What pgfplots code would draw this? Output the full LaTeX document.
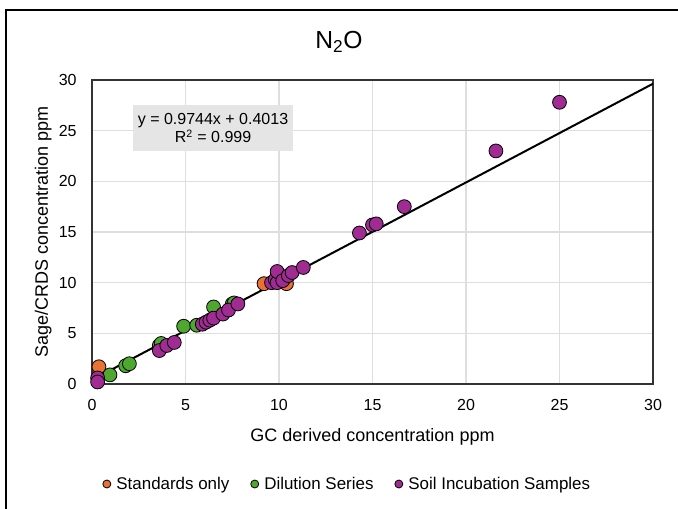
\documentclass[border=0pt]{standalone}
\usepackage{fontspec}
\setmainfont{Liberation Sans}
\usepackage{pgfplots}
\pgfplotsset{compat=1.18}
\definecolor{cOrange}{HTML}{E97132}
\definecolor{cGreen}{HTML}{4EA72E}
\definecolor{cPurple}{HTML}{A02B93}

\begin{document}
\begin{tikzpicture}
\clip (0,0) rectangle (508.5pt,381.75pt);
\draw[line width=1.5pt] (4.5pt,-5pt) -- (4.5pt,374.25pt) -- (515pt,374.25pt);
\node[font=\fontsize{18.5}{22}\selectfont] at (254.25pt,350.25pt) {N\textsubscript{2}O};
\begin{axis}[at={(69pt,93.75pt)},anchor=south west,scale only axis,width=420.75pt,height=228pt,
  xmin=0,xmax=30,ymin=0,ymax=30,xtick={0,5,...,30},ytick={0,5,...,30},
  grid=major,grid style={black!13,line width=0.8pt},axis line style={black!80,line width=1.2pt},
  tick style={draw=none},/pgf/number format/assume math mode=true,
  tick label style={font=\fontsize{12}{14}\selectfont},
  xticklabel style={yshift=-8pt},yticklabel style={xshift=-8pt},
  xlabel={GC derived concentration ppm},ylabel={Sage/CRDS concentration ppm},
  label style={font=\fontsize{13.5}{16}\selectfont},
  xlabel style={at={(axis description cs:0.5,-0.174)},anchor=center},
  ylabel style={at={(axis description cs:-0.087,0.5)},anchor=center},
  legend style={at={(axis description cs:0.456,-0.329)},anchor=center,draw=none,fill=none,
    font=\fontsize{12.7}{15}\selectfont,/tikz/every even column/.append style={column sep=14pt}},
  legend columns=3,
  legend image code/.code={\draw[#1,mark size=3pt] plot coordinates {(0pt,0pt)};\path (5pt,0pt);},
  clip=false]
\addplot[only marks,mark=*,mark size=5.2pt,mark options={draw=black,line width=0.6pt,fill=cOrange}] coordinates {
(0.37,1.7) (9.2,9.9) (10.4,9.9)};
\addlegendentry{Standards only}
\addplot[only marks,mark=*,mark size=5.2pt,mark options={draw=black,line width=0.6pt,fill=cGreen}] coordinates {
(0.96,0.9) (1.8,1.8) (2.0,2.0) (3.6,3.8) (3.7,4.0) (4.9,5.7) (5.6,5.8) (6.5,7.6) (7.5,7.9) (7.6,8.0)};
\addlegendentry{Dilution Series}
\addplot[only marks,mark=*,mark size=5.2pt,mark options={draw=black,line width=0.6pt,fill=cPurple}] coordinates {
(0.3,0.6) (0.3,0.2) (3.6,3.3) (4.0,3.8) (4.4,4.1) (5.9,5.9) (6.1,6.1) (6.3,6.3) (6.5,6.5) (7.0,6.9)
(7.3,7.3) (7.8,7.9) (9.6,10.0) (9.8,10.3) (9.9,10.0) (9.9,11.1) (10.2,10.2) (10.5,10.7) (10.7,11.0)
(11.3,11.5) (14.3,14.9) (15.0,15.7) (15.2,15.8) (16.7,17.5) (21.6,23.0) (25.0,27.8)};
\addlegendentry{Soil Incubation Samples}
\addplot[black,line width=1.5pt,forget plot] coordinates {(0,0.4013) (30,29.6333)};
\node[fill=black!10,minimum width=119pt,minimum height=35pt,align=center,
  font=\fontsize{12}{14}\selectfont] at (axis description cs:0.2157,0.842)
  {y = 0.9744x + 0.4013\\R\textsuperscript{2} = 0.999};
\end{axis}
\end{tikzpicture}
\end{document}
